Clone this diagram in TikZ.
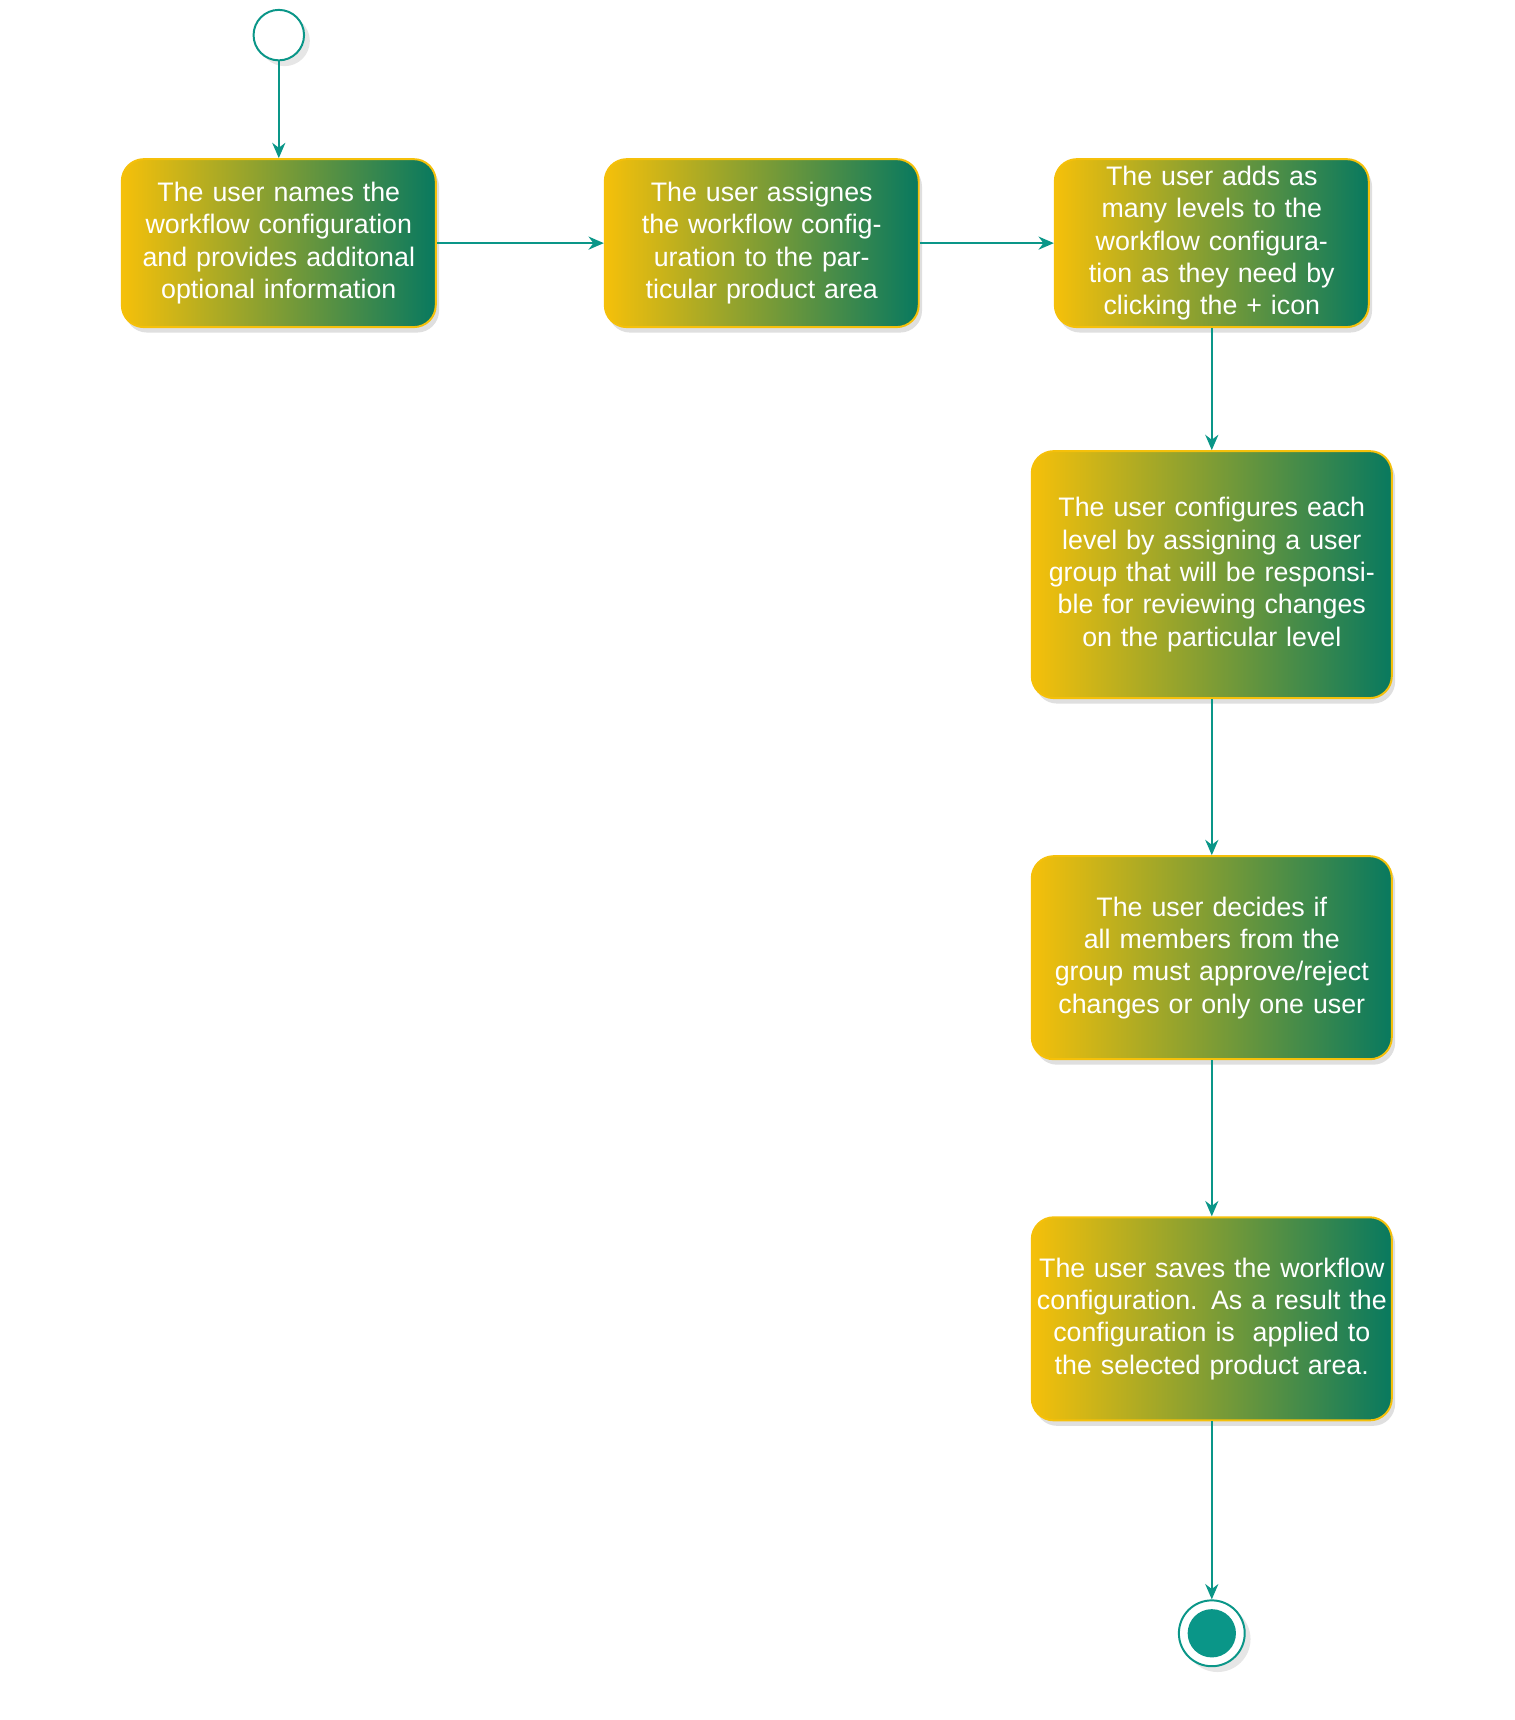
\documentclass[tikz,border=0pt]{standalone}
\usepackage{fontspec}
\setmainfont{Liberation Sans}
\usetikzlibrary{arrows.meta,shadows}
\definecolor{tealc}{HTML}{0A9688}
\definecolor{gold}{HTML}{F5C00A}
\definecolor{dgreen}{HTML}{08795F}
\tikzset{
  act/.style={rounded corners=10pt,draw=gold,line width=0.9pt,left color=gold,right color=dgreen,
    text=white,align=center,inner sep=2pt,font=\fontsize{12.2pt}{14.75pt}\selectfont,
    drop shadow={opacity=0.25,shadow xshift=1.5pt,shadow yshift=-2.5pt}},
  flow/.style={draw=tealc,line width=0.8pt,-{Stealth[length=7pt,width=6pt]}}
}
\begin{document}
\begin{tikzpicture}[x=0.5pt,y=-0.5pt]
\useasboundingbox (0,0) rectangle (1380,1567);
\node[circle,draw=tealc,line width=0.9pt,fill=white,minimum size=23pt,inner sep=0,drop shadow={opacity=0.2}] (s) at (254,32) {};
\node[act,minimum width=143pt,minimum height=76.5pt,text width=138pt] (b1) at (254,221.5) {The user names the workflow configuration and provides additonal optional information};
\node[act,minimum width=143pt,minimum height=76.5pt,text width=138pt] (b2) at (694,221.5) {The user assignes the workflow configuration to the particular product area};
\node[act,minimum width=143pt,minimum height=76.5pt,text width=138pt] (b3) at (1104,221.5) {The user adds as many levels to the workflow configuration as they need by clicking the + icon};
\node[act,minimum width=164pt,minimum height=112.5pt,text width=160pt] (b4) at (1104,523.5) {The user configures each level by assigning a user group that will be responsible for reviewing changes on the particular level};
\node[act,minimum width=164pt,minimum height=92.5pt,text width=160pt] (b5) at (1104,872.5) {The user decides if all members from the group must approve/reject changes or only one user};
\node[act,minimum width=164pt,minimum height=92.5pt,text width=160pt] (b6) at (1104,1201.5) {The user saves the workflow configuration. As a result the configuration is\ \ applied to the selected product area.};
\node[circle,draw=tealc,line width=0.9pt,fill=white,minimum size=30pt,inner sep=0,drop shadow={opacity=0.2}] (e) at (1104,1488) {};
\node[circle,fill=tealc,minimum size=22pt,inner sep=0] (ei) at (e) {};
\draw[flow] (s) -- (b1);
\draw[flow] (b1) -- (b2);
\draw[flow] (b2) -- (b3);
\draw[flow] (b3) -- (b4);
\draw[flow] (b4) -- (b5);
\draw[flow] (b5) -- (b6);
\draw[flow] (b6) -- (e);
\end{tikzpicture}
\end{document}
